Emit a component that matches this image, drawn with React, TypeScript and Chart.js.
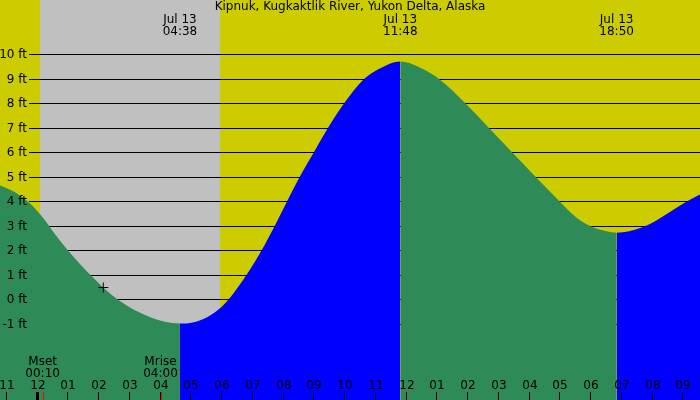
import React, { useEffect, useRef } from "react";
import { Chart, registerables } from "chart.js";

Chart.register(...registerables);

// ---- data ----
const TITLE = "Kipnuk, Kugkaktlik River, Yukon Delta, Alaska";

// tide height (ft) at time (hours after Jul 13 00:00)
const tideHours = [
  -1.22, -0.89, -0.57, -0.24, 0.19, 0.57, 1.0, 1.73, 2.62, 3.65, 4.633,
  5.0, 6.0, 6.79, 7.28, 7.71, 8.11, 8.52, 8.98, 9.44, 9.96, 10.61, 11.0, 11.8,
  12.5, 13.07, 13.93, 14.69, 15.45, 16.21, 16.99, 17.5, 17.99, 18.5, 18.833,
  19.24, 19.67, 20.1, 20.54, 21.1, 21.55,
];
const tideFeet = [
  4.67, 4.49, 4.26, 3.93, 3.33, 2.68, 2.0, 1.0, 0.0, -0.7, -0.97,
  -0.94, -0.27, 1.0, 2.0, 3.0, 4.0, 5.0, 6.0, 7.0, 8.0, 9.0, 9.35, 9.73,
  9.44, 9.0, 8.0, 7.0, 6.0, 5.0, 4.0, 3.38, 3.0, 2.8, 2.74,
  2.8, 2.96, 3.22, 3.56, 4.0, 4.3,
];

const extremeHours = [4.633, 11.8, 18.833];
const extremeDates = ["Jul 13", "Jul 13", "Jul 13"];
const extremeTimes = ["04:38", "11:48", "18:50"];

const yTicks = [-1, 0, 1, 2, 3, 4, 5, 6, 7, 8, 9, 10];
const yLabels = ["-1 ft", "0 ft", "1 ft", "2 ft", "3 ft", "4 ft", "5 ft", "6 ft", "7 ft", "8 ft", "9 ft", "10 ft"];

const hourTicks = [-1, 0, 1, 2, 3, 4, 5, 6, 7, 8, 9, 10, 11, 12, 13, 14, 15, 16, 17, 18, 19, 20, 21];
const hourLabels = ["11", "12", "01", "02", "03", "04", "05", "06", "07", "08", "09", "10", "11", "12", "01", "02", "03", "04", "05", "06", "07", "08", "09"];

const nightHours = [0.08, 5.93]; // sunset, sunrise

const moonHours = [0.167, 4.0];
const moonNames = ["Mset", "Mrise"];
const moonTimes = ["00:10", "04:00"];

const markerHours = [2.14];
const markerFeet = [0.5];

// ---- styles ----
const FONT = "12px 'DejaVu Sans', sans-serif";
const YELLOW = "#cccc00";
const GREY = "#c0c0c0";
const GREEN = "#2e8b57";
const BLUE = "#0000ff";

const decor = {
  id: "decor",
  beforeDraw(chart: any) {
    const { ctx, chartArea: a, scales } = chart;
    const x = scales.x;
    const y = scales.y;
    ctx.save();
    ctx.fillStyle = YELLOW;
    ctx.fillRect(0, 0, chart.width, chart.height);
    const n0 = Math.round(x.getPixelForValue(nightHours[0]));
    const n1 = Math.round(x.getPixelForValue(nightHours[1]));
    ctx.fillStyle = GREY;
    ctx.fillRect(n0, 0, n1 - n0, chart.height);
    ctx.fillStyle = "#000";
    for (const v of yTicks) {
      const py = Math.floor(y.getPixelForValue(v));
      ctx.fillRect(29, py, a.right - 29, 1);
    }
    ctx.restore();
  },
  afterDatasetsDraw(chart: any) {
    const { ctx, chartArea: a, scales } = chart;
    const x = scales.x;
    const y = scales.y;
    ctx.save();
    ctx.font = FONT;
    ctx.fillStyle = "#000";
    ctx.textBaseline = "middle";

    // y labels
    ctx.textAlign = "right";
    yTicks.forEach((v, i) => {
      ctx.fillText(yLabels[i], 27, Math.floor(y.getPixelForValue(v)) + 0.5);
    });

    // title
    ctx.textAlign = "center";
    ctx.fillText(TITLE, (a.left + a.right) / 2, 7);

    // extremes
    extremeHours.forEach((h, i) => {
      const px = x.getPixelForValue(h);
      ctx.fillText(extremeDates[i], px, 19.5);
      ctx.fillText(extremeTimes[i], px, 31.5);
    });

    // moon
    moonHours.forEach((h, i) => {
      const px = x.getPixelForValue(h);
      ctx.fillText(moonNames[i], px, 361.5);
      ctx.fillText(moonTimes[i], px, 373.5);
    });

    // hour ticks
    hourTicks.forEach((h, i) => {
      const px = Math.round(x.getPixelForValue(h));
      ctx.fillStyle = "#000";
      ctx.fillText(hourLabels[i], px, 385.5);
      if (h === 0) ctx.fillRect(px - 2, 392, 3, 8);
      else ctx.fillRect(px - 1, 392, 1, 8);
    });
    ctx.fillStyle = "#ff0000";
    moonHours.forEach((h) => {
      const px = Math.round(x.getPixelForValue(h));
      ctx.fillRect(px, 392, 1, 8);
    });
    ctx.restore();
  },
};

export default function App() {
  const ref = useRef<HTMLCanvasElement>(null);
  useEffect(() => {
    const canvas = ref.current;
    if (!canvas) return;
    const tide = tideHours.map((h, i) => ({ x: h, y: tideFeet[i] }));
    const marker = markerHours.map((h, i) => ({ x: h, y: markerFeet[i] }));
    const chart = new Chart(canvas, {
      type: "line",
      data: {
        datasets: [
          {
            type: "scatter",
            data: marker,
            pointStyle: "cross",
            pointRadius: 5,
            borderColor: "#000",
            borderWidth: 1,
            showLine: false,
          } as any,
          {
            data: tide,
            fill: "start",
            borderWidth: 0,
            pointRadius: 0,
            cubicInterpolationMode: "monotone",
            backgroundColor: GREEN,
            segment: {
              backgroundColor: (c: any) => (c.p1.parsed.y >= c.p0.parsed.y ? BLUE : GREEN),
            },
          } as any,
        ],
      },
      options: {
        responsive: false,
        animation: false,
        events: [],
        layout: { padding: 0, autoPadding: false },
        plugins: { legend: { display: false }, tooltip: { enabled: false } },
        scales: {
          x: { type: "linear", display: false, min: -37.5 / 30.75, max: 662.5 / 30.75 },
          y: { type: "linear", display: false, min: -100.2 / 24.5, max: 299.8 / 24.5 },
        },
      },
      plugins: [decor],
    });
    return () => chart.destroy();
  }, []);
  return (
    <div style={{ position: "fixed", left: 0, top: 0, width: 700, height: 400 }}>
      <canvas ref={ref} width={700} height={400} style={{ display: "block" }} />
    </div>
  );
}
